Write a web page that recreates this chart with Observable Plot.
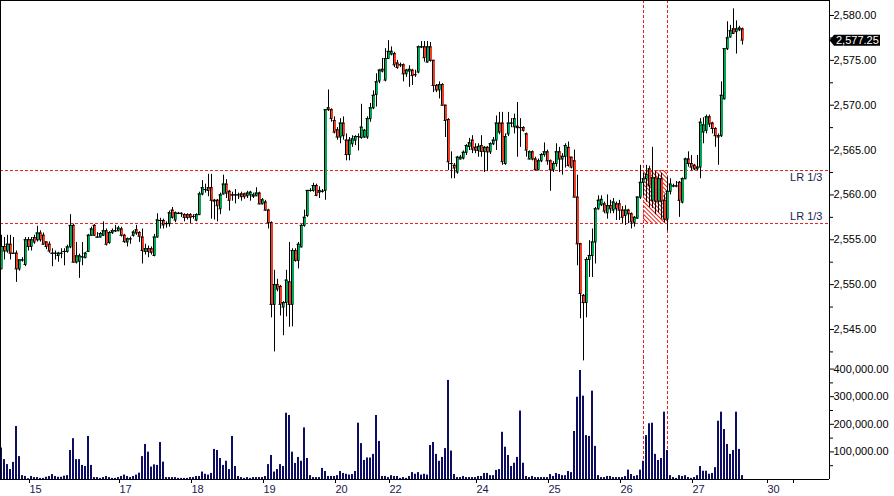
<!DOCTYPE html>
<html><head><meta charset="utf-8">
<script src="https://cdn.jsdelivr.net/npm/d3@7"></script>
<script src="https://cdn.jsdelivr.net/npm/@observablehq/plot@0.6"></script>
<style>
html,body{margin:0;padding:0;background:#fff;}
#chart{position:relative;width:894px;height:496px;overflow:hidden;background:#fff;}
#chart svg{display:block;position:absolute;left:0;}
</style></head><body><div id="chart"></div>
<script>
const opens = [2551.75,2554.25,2553.75,2554.5,2553.5,2553.5,2551.75,2552.75,2552.25,2555,2554.25,2555.25,2555,2555.75,2555.5,2554.75,2554.5,2553.5,2553.5,2553.25,2553.5,2553.7,2553.7,2554.2,2556.6,2552.5,2552.6,2553.1,2553,2553.7,2555.5,2556.6,2555.3,2555.3,2555.5,2556,2554.7,2555.8,2556,2556,2556.2,2555.5,2554.75,2555.1,2555.5,2556.1,2555.8,2555.3,2553.7,2554,2554,2553.25,2555.3,2557.15,2557.15,2556.8,2556.8,2558.3,2557.2,2557.95,2557.95,2557.8,2557.8,2557.8,2557.6,2557.2,2557.8,2560.1,2560.6,2560.8,2560.8,2559.4,2559.4,2558.45,2560.1,2561.2,2560.4,2560,2560,2560,2560.1,2560.1,2559.9,2560,2559.85,2559.9,2560.2,2559,2559.2,2558.3,2556.9,2547.8,2550,2549.8,2547.5,2548,2550.3,2547.8,2553.8,2552.7,2554.2,2556.6,2557.7,2560.5,2560.5,2561.05,2560.3,2560.4,2560.5,2569.7,2569.5,2568.3,2567.25,2566.45,2568,2566.1,2564.5,2565.7,2566.1,2566.5,2566.4,2566.45,2566.45,2568.5,2569.7,2571.2,2572.7,2574,2572.8,2575.2,2575.7,2575.75,2574.7,2574.5,2574.5,2573.5,2573.8,2573.9,2573.4,2573.7,2576.5,2576.5,2574.8,2576.5,2575,2572.2,2571.7,2572.3,2570,2568.4,2563.5,2563.3,2562.55,2564,2564.1,2564.75,2565.4,2566.1,2565.3,2564.95,2565.5,2564.85,2565.3,2564.8,2565.7,2566.1,2568,2568,2563.5,2566.8,2568,2567.6,2567.65,2567.5,2567.5,2566.8,2564,2564.8,2564,2562.8,2563.8,2564.5,2564.8,2563.8,2562.8,2563.5,2564.8,2564,2564.3,2565.3,2564.2,2563.8,2559.75,2554.55,2548.8,2548,2552.8,2553.25,2554.75,2558.45,2558.9,2559,2558,2558.8,2558.3,2559,2559,2558.3,2557.7,2558.3,2557.9,2556.9,2557.4,2559.75,2561.4,2561.8,2562.9,2559.4,2561.9,2559.3,2561.8,2559.4,2557.3,2560.4,2561,2561,2561.4,2559.2,2561.8,2564,2563.5,2563.3,2562.9,2563.1,2567,2567.2,2568.7,2568,2567.4,2566.6,2566.6,2570.7,2576.3,2577.6,2578.5,2578.2,2578.4,2578.5];
const highs = [2555.5,2555.25,2555.5,2555.5,2555.25,2553.75,2552.75,2553,2555.25,2555.25,2555.25,2555.5,2556.5,2556,2555.75,2554.75,2554.75,2554,2553.75,2553.6,2554,2554,2554.4,2557.8,2556.75,2554.7,2553.4,2554.7,2553.6,2555.6,2556.4,2556.7,2555.8,2555.8,2557,2556.2,2555.9,2556.2,2556.6,2556.5,2556.4,2555.6,2555.2,2555.3,2556,2556.6,2555.9,2556.2,2554.5,2554.3,2554.2,2555.6,2557.9,2557.4,2557.3,2557,2558.2,2558.6,2558.1,2558.05,2558,2557.9,2557.9,2557.9,2557.8,2557.9,2560.3,2561.6,2561.2,2562.3,2562.3,2559.5,2559.5,2560.2,2562.2,2561.7,2560.5,2560.3,2560.6,2560.2,2560.3,2560.2,2560.4,2560.4,2560.2,2560.8,2560.3,2559.6,2559.4,2558.4,2557,2551.6,2550.6,2549.9,2548.1,2551.6,2554.7,2554,2554,2554.7,2556.7,2558.3,2560.5,2560.7,2561.3,2561.2,2560.9,2560.6,2569.5,2571.7,2569.6,2568.7,2567.5,2568.5,2568.7,2566.8,2566.4,2566.6,2566.6,2566.8,2570.1,2567.3,2568.7,2570.2,2571.6,2573.5,2574,2575.2,2576.3,2577.2,2576.5,2575.9,2575,2574.7,2574.6,2574,2574.4,2574,2573.9,2576.6,2577.1,2577.1,2577.1,2577,2575,2572.3,2572.6,2572.4,2570,2568.5,2564.8,2563.5,2564.3,2564.4,2564.9,2565.6,2566.3,2566.6,2565.7,2565.7,2566.6,2565.4,2565.4,2565.8,2566.4,2568.8,2569.2,2569.2,2566.8,2569.2,2568.5,2569,2570.3,2568.5,2567.6,2566.9,2564.9,2564.9,2564.2,2564,2564.6,2565.8,2565,2563.9,2563.7,2565.7,2565.3,2564.6,2565.7,2565.9,2564.2,2565,2562.2,2554.6,2548.9,2553,2554.9,2556.2,2558.6,2559.9,2559.9,2559.2,2560,2559.4,2559.6,2559.2,2559.4,2558.7,2558.8,2558.4,2558,2557.6,2559.8,2563.3,2562.4,2563.3,2563.2,2565.3,2562.6,2562.3,2562.4,2560,2562,2561.8,2561.2,2561.5,2561.5,2561.9,2564.1,2564.8,2564.4,2563.4,2564.4,2568.5,2568.6,2568.9,2568.9,2568.1,2567.5,2566.8,2572.6,2576.3,2579.3,2578.9,2580.74,2579.4,2578.8,2578.6];
const lows = [2551.75,2552.75,2553.5,2552.75,2553.5,2550.25,2551.5,2552.5,2552,2553.75,2553.75,2554.5,2554.75,2554.75,2554.4,2553.9,2553.5,2552,2552.75,2552.5,2552.9,2552.1,2553.5,2554,2552.4,2552.3,2550.7,2552.1,2552.9,2553.6,2555.4,2555.4,2555.2,2555.2,2555.4,2554.3,2554.5,2555.6,2555.8,2555.9,2555.3,2554.6,2554.2,2554.5,2555.3,2555.5,2554.7,2552.3,2553.3,2553,2553.3,2553.1,2555.2,2556.2,2556.2,2556.3,2556.4,2557.3,2556.9,2557.8,2557.5,2557,2557.2,2556.8,2557.3,2557,2557.7,2559.9,2560.2,2559.8,2557.3,2557.2,2557,2557.8,2560,2559.6,2558.2,2559.3,2559,2559.5,2559.3,2559.5,2559.6,2559.3,2559.6,2559.8,2558.9,2558.9,2558.2,2556.2,2546.3,2542.5,2549.2,2546.5,2544.3,2546.4,2545.25,2545.3,2552.5,2551.75,2554.1,2556.4,2557.5,2560.3,2560.3,2559.8,2559.6,2560.2,2559.4,2569.3,2568.1,2566.8,2566.1,2565.7,2566.1,2563.8,2563.8,2565.3,2565.5,2564.9,2566.2,2566.3,2566.2,2568.1,2569.5,2569.8,2572.4,2573.6,2572.6,2575.1,2575.5,2574.2,2574,2574.2,2572.6,2573.1,2572,2572.2,2573.1,2573.5,2576.3,2574.8,2574.7,2574.8,2571.4,2571.4,2570.7,2569.9,2566.4,2562.7,2561.8,2561.8,2562.3,2563.9,2563.9,2564.4,2564.95,2564.6,2564.6,2564.2,2564.2,2562.5,2562.6,2564.5,2565.5,2564.95,2566.7,2563.3,2563.3,2566.5,2567.5,2566.8,2564.2,2565.3,2567,2564.2,2563.9,2563.8,2562.7,2562.7,2563.6,2564.2,2563.3,2560.4,2562.5,2563.1,2562.5,2562.2,2563,2563.1,2562.9,2559.7,2552.1,2546.2,2541.5,2546.3,2550.8,2550.8,2552.3,2558.3,2558.7,2557.9,2557.3,2557.9,2557.9,2557.15,2557.15,2556.8,2556.6,2556.8,2556.2,2556.4,2557.3,2559.5,2559.9,2559.2,2558.6,2558.5,2557.8,2558,2557.3,2556.9,2556,2560,2560.8,2560.8,2557.5,2559,2561.7,2563.1,2562.7,2562.7,2562.7,2561.8,2565.7,2566.8,2567.5,2566.8,2565.3,2563.3,2566.4,2570.6,2576.1,2577.5,2577.9,2575.7,2578.2,2576.7];
const closes = [2554.25,2553.75,2554.5,2553.5,2553.5,2551.75,2552.75,2552.75,2555,2554.25,2555,2554.75,2555.75,2555,2554.5,2554.25,2553.75,2553.5,2553.5,2553.5,2553.5,2553.7,2554.2,2556.6,2552.5,2553.2,2553.2,2553.1,2553.5,2555.5,2556.2,2555.5,2555.3,2555.7,2556,2554.5,2555.8,2556,2556,2556.3,2555.5,2554.8,2555.1,2555.1,2555.85,2555.75,2555.4,2553.8,2554,2553.7,2553.6,2555.3,2557.2,2557.15,2556.65,2556.8,2558,2557.5,2558,2557.95,2557.95,2557.5,2557.5,2557.5,2557.6,2557.8,2560.1,2560.8,2560.6,2560.5,2559.4,2559.3,2558.8,2560,2561.2,2560.2,2559.4,2560,2560,2560,2559.8,2559.8,2560.2,2560.3,2560,2560.2,2559,2559.45,2558.3,2556.9,2547.8,2550,2549.5,2547.8,2548,2550.5,2547.8,2553.8,2552.7,2554.5,2556.6,2557.5,2560.5,2560.5,2561.05,2559.95,2560.5,2560.4,2569.5,2569.5,2568.5,2567,2566.45,2568,2566.6,2564.5,2566.1,2566.25,2566.5,2566.5,2567.55,2567.2,2568.5,2569.7,2571.1,2572.6,2573.9,2573.8,2575.2,2576,2576,2574.5,2574.2,2574.5,2573.5,2573.9,2574,2573.3,2573.4,2576.5,2576.5,2575.3,2576.5,2575,2572.2,2571.7,2572.3,2570,2568.3,2563.7,2563.5,2563,2564.2,2564.2,2564.75,2565.5,2565.8,2565.1,2565,2565.4,2564.85,2565.3,2564.8,2565.7,2566.1,2568,2567,2563.7,2566.5,2568,2568,2568.5,2567.5,2567.5,2567.2,2565,2564.8,2564,2562.8,2563.8,2564.5,2564.8,2563.8,2562.8,2563.5,2564.8,2564,2564.3,2565.5,2563.3,2563.1,2559.75,2554.55,2549,2548,2552.8,2553.25,2554.75,2558.45,2559.4,2559.5,2558.2,2558.8,2558.45,2559.2,2558.45,2558.3,2557.5,2558.3,2557.9,2557,2557.5,2559.75,2561.4,2561.8,2562.3,2561,2561.9,2559.3,2561.8,2559.3,2557.3,2560.4,2561.2,2561,2561,2559.4,2561.8,2564,2563.5,2563.1,2562.9,2563.1,2568.1,2567.8,2568.7,2567.9,2567.4,2566.6,2566.45,2571.1,2576.3,2577.5,2578.3,2578,2578.5,2578.6,2577.25];
const volumes = [114000,72000,54000,36000,62000,192000,83000,14000,11000,3000,11000,7000,7000,4000,4000,8000,11000,18000,11000,8000,8000,12000,14000,105000,148000,72000,72000,51000,47000,156000,51000,7000,7000,4000,7000,11000,7000,4000,4000,7000,11000,16000,11000,7000,11000,16000,23000,83000,127000,99000,45000,53000,51000,134000,63000,7000,7000,7000,7000,4000,4000,4000,4000,7000,7000,11000,11000,27000,19000,16000,22000,109000,105000,76000,51000,66000,36000,156000,47000,11000,7000,4000,7000,4000,7000,7000,7000,7000,11000,54000,87000,27000,36000,54000,47000,240000,232000,99000,58000,80000,66000,187000,76000,14000,7000,7000,7000,40000,29000,11000,11000,11000,14000,29000,22000,19000,16000,18000,29000,204000,130000,69000,78000,78000,91000,232000,138000,11000,11000,7000,14000,11000,11000,4000,7000,4000,11000,25000,19000,25000,16000,19000,16000,123000,134000,91000,66000,80000,112000,359000,103000,18000,7000,7000,11000,7000,7000,7000,7000,11000,11000,22000,22000,14000,14000,33000,36000,171000,117000,87000,47000,59000,80000,248000,59000,11000,7000,11000,7000,7000,7000,7000,7000,18000,11000,22000,18000,14000,14000,29000,25000,174000,298000,395000,302000,159000,156000,320000,120000,14000,7000,7000,11000,11000,7000,7000,7000,7000,11000,34000,18000,11000,14000,34000,66000,159000,202000,204000,91000,69000,76000,244000,105000,14000,7000,4000,14000,11000,14000,7000,4000,7000,14000,47000,30000,30000,19000,22000,43000,211000,244000,181000,127000,91000,105000,244000,109000,14000];

const dayLabels = ["15","17","18","19","20","22","24","25","26","27","30"];
const dayTickBars = [9,39,63,87,111,129,158,182,206,230,255];
const unlabeledTickBars = [264];
const priceTicks = [2545,2550,2555,2560,2565,2570,2575,2580];
const priceMinorTicks = [2542.5,2547.5,2552.5,2557.5,2562.5,2567.5,2572.5,2577.5];
const volumeTicks = [100000,200000,300000,400000];
const volumeMinorTicks = [50000,150000,250000,350000];
const levelPrices = [2562.72, 2556.81];
const levelLabels = ["LR 1/3","LR 1/3"];
const markerBars = [214, 222];
const lastPrice = 2577.25;

const W = 894, MR = 65;
const GREEN = "#00a651", RED = "#ee3e26", DASH = "#e3211c", NAVY = "#0d0d66", LABEL = "#1a1a4e";
const FONT = "'Liberation Sans', Arial, sans-serif";
const xDomain = [-1/3, 276];

const bars = opens.map((o, i) => ({i, o, h: highs[i], l: lows[i], c: closes[i], v: volumes[i]}));
const bodies = bars.filter(d => Math.abs(d.c - d.o) >= 0.06);
const ups = bodies.filter(d => d.c > d.o);
const downs = bodies.filter(d => d.c < d.o);

const pxPerPoint = 8.971;
const priceTop = 2580 + 15 / pxPerPoint;
const priceBot = 2580 - 350 / pxPerPoint;
const zone = [{a: markerBars[0], b: markerBars[1], lo: levelPrices[1], hi: levelPrices[0]}];

const bodyEdges = bars.flatMap(d => [{i: d.i, y: d.o}, {i: d.i, y: d.c}]);

const pricePlot = Plot.plot({
  width: W, height: 365,
  marginLeft: 0, marginRight: MR, marginTop: 0, marginBottom: 0,
  style: {fontFamily: FONT, fontSize: "11px", color: "#000", background: "#fff"},
  x: {domain: xDomain, axis: null},
  y: {domain: [priceBot, priceTop], label: null},
  marks: [
    Plot.rect(zone, {x1: "a", x2: "b", y1: "lo", y2: "hi", fill: "url(#hatch)"}),
    Plot.ruleY(levelPrices, {x1: xDomain[0], x2: 276, stroke: DASH, strokeDasharray: "3,2"}),
    Plot.ruleX(markerBars, {stroke: DASH, strokeDasharray: "3,2"}),
    Plot.ruleX(bars, {x: "i", y1: "l", y2: "h", stroke: "#000", strokeWidth: 1}),
    Plot.rect(ups, {x1: d => d.i - 1/3, x2: d => d.i + 2/3, y1: "o", y2: "c", fill: GREEN}),
    Plot.rect(downs, {x1: d => d.i - 1/3, x2: d => d.i + 2/3, y1: "o", y2: "c", fill: RED}),
    Plot.ruleX(bodies, {x: d => d.i - 1/3, y1: "o", y2: "c", stroke: "#000"}),
    Plot.ruleY(bodyEdges, {y: "y", x1: d => d.i - 0.5, x2: d => d.i + 0.5, stroke: "#000"}),
    Plot.text([levelPrices[0]], {x: 276, y: d => d, text: () => levelLabels[0], textAnchor: "end", dx: -7, dy: 6.5, fill: LABEL, fontSize: 11}),
    Plot.text([levelPrices[1]], {x: 276, y: d => d, text: () => levelLabels[1], textAnchor: "end", dx: -7, dy: -7, fill: LABEL, fontSize: 11}),
    Plot.ruleY([priceTop], {stroke: "#000"}),
    Plot.ruleX([xDomain[0]], {stroke: "#000"}),
    Plot.ruleX([276], {stroke: "#000"}),
    Plot.axisY({anchor: "right", ticks: priceTicks, tickFormat: d3.format(",.2f"), tickSize: 4, tickPadding: 0, label: null}),
    Plot.axisY({anchor: "right", ticks: priceMinorTicks, tickFormat: () => "", tickSize: 3, label: null})
  ]
});

const volTop = 114 / 27.6 * 100000;
const labelOf = new Map(dayTickBars.map((b, k) => [b, dayLabels[k]]));
const volumePlot = Plot.plot({
  width: W, height: 141,
  marginLeft: 0, marginRight: MR, marginTop: 10, marginBottom: 17,
  style: {fontFamily: FONT, fontSize: "11px", color: "#000", background: "transparent"},
  x: {domain: xDomain},
  y: {domain: [0, volTop], label: null},
  marks: [
    Plot.ruleX(markerBars, {y1: 0, y2: volTop * 10 / 114 + volTop, stroke: DASH, strokeDasharray: "3,2"}),
    Plot.rect(bars, {x1: d => d.i - 1/3, x2: d => d.i + 1/3, y1: d => 0, y2: "v", fill: NAVY}),
    Plot.ruleX([xDomain[0]], {y1: 0, y2: volTop, stroke: "#000"}),
    Plot.ruleX([276], {y1: 0, y2: volTop, stroke: "#000"}),
    Plot.ruleY([0], {x1: xDomain[0], x2: 276, stroke: "#000"}),
    Plot.axisY({anchor: "right", ticks: volumeTicks, tickFormat: d3.format(",.2f"), tickSize: 4, tickPadding: 0, label: null}),
    Plot.axisY({anchor: "right", ticks: volumeMinorTicks, tickFormat: () => "", tickSize: 3, label: null}),
    Plot.axisX({anchor: "bottom", ticks: dayTickBars, tickFormat: d => labelOf.get(d), tickSize: 4, tickPadding: 2, textAnchor: "start", dx: 1, fill: LABEL, label: null}),
    Plot.axisX({anchor: "bottom", ticks: unlabeledTickBars, tickFormat: () => "", tickSize: 4, label: null})
  ]
});

// hatch pattern definition
const svgP = d3.select(pricePlot);
const defs = svgP.insert("defs", ":first-child");
const pat = defs.append("pattern").attr("id", "hatch").attr("patternUnits", "userSpaceOnUse")
  .attr("width", 3).attr("height", 3).attr("patternTransform", "rotate(-45)");
pat.append("line").attr("x1", 0.5).attr("y1", 0).attr("x2", 0.5).attr("y2", 3).attr("stroke", DASH).attr("stroke-width", 1);

// last price tag on the price axis
const yy = pricePlot.scale("y").apply(lastPrice) + 0.5;
const tag = svgP.append("g");
tag.append("path").attr("d", `M829.5,${yy} L834,${yy - 5.5} L880,${yy - 5.5} L880,${yy + 5.5} L834,${yy + 5.5} Z`).attr("fill", "#000");
tag.append("text").attr("x", 836).attr("y", yy).attr("dy", "0.35em").attr("fill", "#fff")
  .attr("text-anchor", "start").attr("font-family", FONT).attr("font-size", 11)
  .text(d3.format(",.2f")(lastPrice));

const chart = document.getElementById("chart");
pricePlot.style.top = "0px";
volumePlot.style.top = "355px";
chart.appendChild(pricePlot);
chart.appendChild(volumePlot);
</script>
</body></html>
